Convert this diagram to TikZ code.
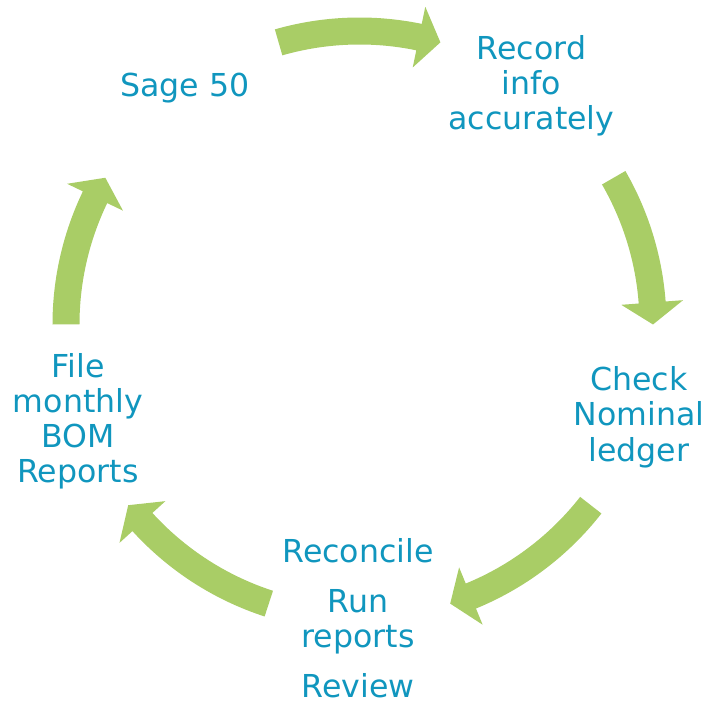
\documentclass[tikz,border=0pt]{standalone}
\usepackage{fontspec}
\setmainfont{DejaVu Sans}
\usepackage{xcolor}
\definecolor{cyclegreen}{RGB}{169,205,102}
\definecolor{cycleblue}{RGB}{16,150,190}

\begin{document}
\begin{tikzpicture}[x=1pt,y=1pt,
  steptext/.style={text=cycleblue,font=\fontsize{31.6}{35}\selectfont,align=center,anchor=base,inner sep=0pt},
  cyclearrow/.style={fill=cyclegreen}]
\useasboundingbox (-359.5,-375.5) rectangle (348.5,324.5);
\fill[cyclearrow] (106:307) arc[start angle=106,end angle=78.3,radius=307] -- (78.3:324.5) -- (74:293.5) -- (78.3:262.5) -- (78.3:280) arc[start angle=78.3,end angle=106,radius=280] -- cycle;
\fill[cyclearrow] (30:307) arc[start angle=30,end angle=4.3,radius=307] -- (4.3:324.5) -- (0:293.5) -- (4.3:262.5) -- (4.3:280) arc[start angle=4.3,end angle=30,radius=280] -- cycle;
\fill[cyclearrow] (-38:307) arc[start angle=-38,end angle=-67.7,radius=307] -- (-67.7:324.5) -- (-72:293.5) -- (-67.7:262.5) -- (-67.7:280) arc[start angle=-67.7,end angle=-38,radius=280] -- cycle;
\fill[cyclearrow] (-108:307) arc[start angle=-108,end angle=-137.7,radius=307] -- (-137.7:324.5) -- (-142:293.5) -- (-137.7:262.5) -- (-137.7:280) arc[start angle=-137.7,end angle=-108,radius=280] -- cycle;
\fill[cyclearrow] (180:307) arc[start angle=180,end angle=154.3,radius=307] -- (154.3:324.5) -- (150:293.5) -- (154.3:262.5) -- (154.3:280) arc[start angle=154.3,end angle=180,radius=280] -- cycle;
\node[steptext] (sage) at (-174.5,227.5) {Sage 50};
\node[steptext] (record) at (172,194.5) {Record\\info\\accurately};
\node[steptext] (check) at (279.5,-136.5) {Check\\Nominal\\ledger};
\node[steptext] (reconcile) at (-1.5,-372.5) {Reconcile\\[15pt]Run\\reports\\[15pt]Review};
\node[steptext] (file) at (-281.5,-157.5) {File\\monthly\\BOM\\Reports};
\end{tikzpicture}
\end{document}
